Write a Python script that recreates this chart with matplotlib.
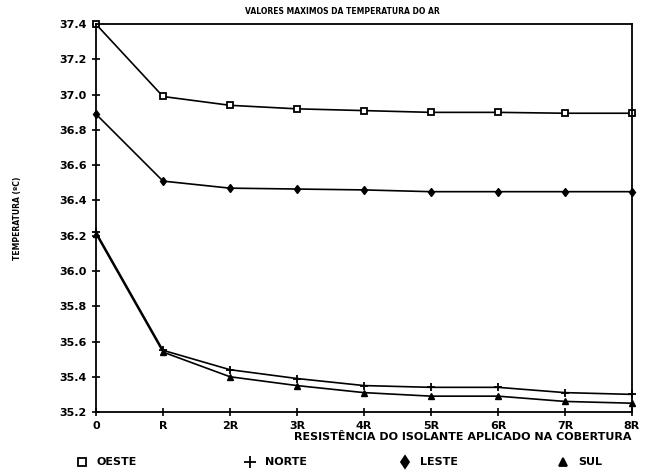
import numpy as np
import matplotlib
matplotlib.use('Agg')
import matplotlib.pyplot as plt

categorias = ['0', 'R', '2R', '3R', '4R', '5R', '6R', '7R', '8R']
oeste = [37.40, 36.99, 36.94, 36.92, 36.91, 36.90, 36.90, 36.895, 36.895]
leste = [36.89, 36.51, 36.47, 36.465, 36.46, 36.45, 36.45, 36.45, 36.45]
norte = [36.22, 35.55, 35.44, 35.39, 35.35, 35.34, 35.34, 35.31, 35.30]
sul = [36.21, 35.54, 35.40, 35.35, 35.31, 35.29, 35.29, 35.26, 35.25]

plt.rcParams['font.family'] = ['DejaVu Sans']
plt.rcParams['font.weight'] = 'bold'

fig = plt.figure(figsize=(6.59, 4.75), dpi=100)
ax = fig.add_axes([0.1457, 0.1326, 0.8133, 0.8164])
x = np.arange(len(categorias))

ax.plot(x, oeste, marker='s', color='black', lw=1.2, ms=5, mfc='white', mew=1.3, clip_on=False)
ax.plot(x, leste, marker='d', color='black', lw=1.2, ms=4.5, mfc='black', clip_on=False)
ax.plot(x, norte, marker='+', color='black', lw=1.2, ms=6, mew=1.3, clip_on=False)
ax.plot(x, sul, marker='^', color='black', lw=1.2, ms=4.5, mfc='black', clip_on=False)

ax.set_xlim(0, 8)
ax.set_ylim(35.2, 37.4)
ax.set_xticks(x)
ax.set_xticklabels(categorias)
ax.set_yticks(np.arange(35.2, 37.41, 0.2))
ax.set_yticklabels(['%.1f' % v for v in np.arange(35.2, 37.41, 0.2)])
ax.tick_params(direction='inout', length=6, width=1.2, labelsize=8)
for s in ax.spines.values():
    s.set_linewidth(1.3)

fig.text(0.52, 0.985, 'VALORES MAXIMOS DA TEMPERATURA DO AR', ha='center', va='top',
         fontsize=5.5, fontweight='bold')
fig.text(0.027, 0.54, 'TEMPERATURA (ºC)', rotation=90, ha='center', va='center',
         fontsize=5.5, fontweight='bold')
fig.text(0.959, 0.08, 'RESISTÊNCIA DO ISOLANTE APLICADO NA COBERTURA', ha='right',
         va='center', fontsize=8, fontweight='bold')

leg = [('s', 'white', 'OESTE', 0.125), ('+', 'black', 'NORTE', 0.38),
       ('d', 'black', 'LESTE', 0.615), ('^', 'black', 'SUL', 0.855)]
for m, fc, nome, xp in leg:
    fig.lines.append(plt.Line2D([xp], [0.027], marker=m, color='black', mfc=fc,
                                ms=6 if m != '+' else 8, mew=1.3, transform=fig.transFigure))
    fig.text(xp + 0.022, 0.027, nome, ha='left', va='center', fontsize=8, fontweight='bold')

fig.savefig('out.png', dpi=100)
